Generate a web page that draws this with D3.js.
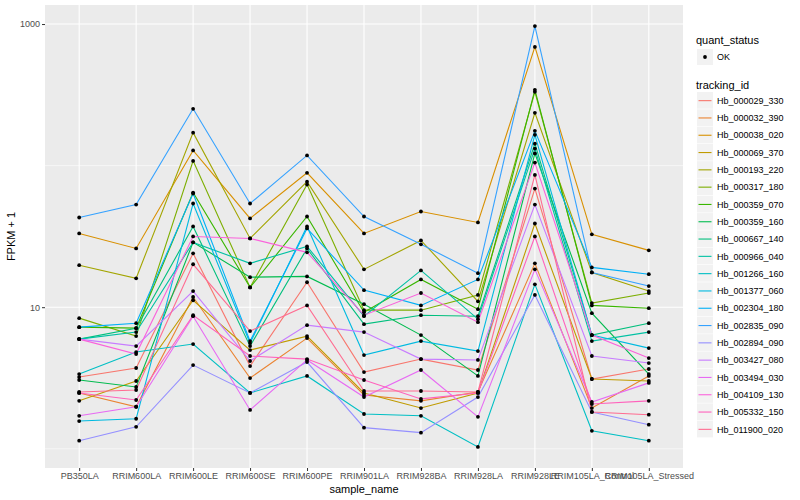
<!DOCTYPE html>
<html>
<head>
<meta charset="utf-8">
<script src="https://cdn.jsdelivr.net/npm/d3@7"></script>
<style>
  body { margin: 0; background: #fff; }
  text { font-family: "Liberation Sans", Arial, sans-serif; }
</style>
</head>
<body>
<svg id="chart"></svg>
<script>
const samples = ['PB350LA', 'RRIM600LA', 'RRIM600LE', 'RRIM600SE', 'RRIM600PE', 'RRIM901LA',
  'RRIM928BA', 'RRIM928LA', 'RRIM928LE', 'RRIM105LA_Control', 'RRIM105LA_Stressed'];

const trackingIds = ['Hb_000029_330', 'Hb_000032_390', 'Hb_000038_020', 'Hb_000069_370', 'Hb_000193_220',
  'Hb_000317_180', 'Hb_000359_070', 'Hb_000359_160', 'Hb_000667_140', 'Hb_000966_040',
  'Hb_001266_160', 'Hb_001377_060', 'Hb_002304_180', 'Hb_002835_090', 'Hb_002894_090',
  'Hb_003427_080', 'Hb_003494_030', 'Hb_004109_130', 'Hb_005332_150', 'Hb_011900_020'];

// FPKM + 1, one row per tracking id, one value per sample
const fpkm = [
  [3.21, 3.72, 24.0, 3.84, 15.0, 3.48, 4.30, 3.60, 68.9, 3.11, 3.66],
  [2.48, 1.98, 11.8, 3.16, 6.05, 2.40, 2.18, 2.52, 20.4, 1.94, 3.27],
  [33.2, 26.0, 128, 42.4, 89, 33.2, 47.4, 39.7, 689, 32.7, 25.2],
  [2.18, 3.01, 11.2, 4.98, 6.25, 2.48, 1.94, 2.48, 39.0, 3.11, 3.01],
  [19.8, 16.0, 171, 30.6, 77, 18.5, 29.6, 11.0, 236, 17.6, 13.0],
  [8.37, 6.25, 108, 13.8, 73.5, 9.53, 9.53, 12.2, 332, 10.7, 12.6],
  [7.23, 7.11, 64.5, 13.8, 43.7, 9.22, 15.7, 9.68, 343, 10.3, 9.84],
  [3.06, 2.73, 28.7, 16.3, 16.5, 10.5, 6.35, 3.27, 122, 9.07, 3.37],
  [5.95, 7.11, 37.2, 5.31, 26.0, 7.59, 8.78, 8.64, 143, 6.35, 7.71],
  [5.95, 6.67, 28.7, 20.4, 26.9, 8.64, 18.2, 8.23, 132, 5.76, 6.67],
  [3.37, 4.82, 5.49, 2.48, 3.27, 1.76, 1.71, 1.03, 14.5, 1.34, 1.14],
  [1.57, 1.63, 54, 5.58, 37.2, 4.59, 5.76, 4.90, 165, 6.35, 5.14],
  [7.23, 7.71, 63.5, 5.76, 36.0, 13.2, 10.3, 15.7, 176, 19.1, 17.1],
  [43, 53.1, 252, 54, 118, 43.7, 27.8, 17.4, 968, 17.6, 14.1],
  [1.14, 1.43, 3.90, 2.48, 4.10, 1.41, 1.30, 2.32, 12.2, 1.82, 1.48],
  [5.95, 5.31, 13.0, 4.17, 7.47, 6.67, 4.30, 4.24, 53.1, 4.52, 4.03],
  [1.71, 1.98, 8.64, 1.88, 4.24, 2.32, 3.60, 1.68, 18.5, 2.14, 2.92],
  [5.95, 4.67, 31.6, 30.6, 24.4, 8.78, 12.6, 7.84, 105, 6.35, 4.37],
  [2.48, 2.21, 8.78, 4.52, 4.30, 3.06, 2.25, 2.48, 31.6, 2.07, 2.18],
  [2.52, 2.60, 20.1, 6.78, 10.3, 2.56, 2.56, 2.52, 86, 1.82, 1.74]
];

const yMajor = [10, 1000];
const yMinor = [1, 100];

// ggplot default hue palette for 20 groups
const colors = ['#F8766D', '#EA8331', '#D89000', '#C09B00', '#A3A500', '#7CAE00', '#39B600', '#00BB4E',
  '#00BF7D', '#00C1A3', '#00BFC4', '#00BAE0', '#00B0F6', '#35A2FF', '#9590FF', '#C77CFF',
  '#E76BF3', '#FA62DB', '#FF62BC', '#FF6C91'];

const width = 800, height = 500;
const panel = { left: 45, right: 683, top: 5, bottom: 468 };

const svg = d3.select('#chart').attr('width', width).attr('height', height);

// x: discrete with ggplot's 0.6 unit padding
const x = d3.scalePoint().domain(samples)
  .range([panel.left, panel.right]).padding(0.6);

// y: log10 with 5% expansion of the data range
const allVals = fpkm.flat();
const lo = Math.log10(d3.min(allVals)), hi = Math.log10(d3.max(allVals));
const pad = (hi - lo) * 0.05;
const y = d3.scaleLog().domain([Math.pow(10, lo - pad), Math.pow(10, hi + pad)])
  .range([panel.bottom, panel.top]);

svg.append('rect')
  .attr('x', panel.left).attr('y', panel.top)
  .attr('width', panel.right - panel.left).attr('height', panel.bottom - panel.top)
  .attr('fill', '#EBEBEB');

const grid = svg.append('g');
grid.selectAll('.minor').data(yMinor).join('line')
  .attr('x1', panel.left).attr('x2', panel.right)
  .attr('y1', d => y(d)).attr('y2', d => y(d))
  .attr('stroke', '#fff').attr('stroke-width', 0.55);
grid.selectAll('.major').data(yMajor).join('line')
  .attr('x1', panel.left).attr('x2', panel.right)
  .attr('y1', d => y(d)).attr('y2', d => y(d))
  .attr('stroke', '#fff').attr('stroke-width', 1.1);
grid.selectAll('.vmajor').data(samples).join('line')
  .attr('x1', d => x(d)).attr('x2', d => x(d))
  .attr('y1', panel.top).attr('y2', panel.bottom)
  .attr('stroke', '#fff').attr('stroke-width', 1.1);

// lines
const series = trackingIds.map((id, i) => ({ id, color: colors[i], values: fpkm[i] }));
const line = d3.line()
  .x((d, i) => x(samples[i]))
  .y(d => y(d));

svg.append('g').selectAll('path').data(series).join('path')
  .attr('d', d => line(d.values))
  .attr('fill', 'none')
  .attr('stroke', d => d.color)
  .attr('stroke-width', 1.1);

// points
svg.append('g').selectAll('g').data(series).join('g')
  .selectAll('circle').data(d => d.values).join('circle')
  .attr('cx', (d, i) => x(samples[i]))
  .attr('cy', d => y(d))
  .attr('r', 1.9)
  .attr('fill', '#000');

// axes
const xAxis = svg.append('g')
  .attr('transform', `translate(0,${panel.bottom})`)
  .call(d3.axisBottom(x).tickSize(3).tickPadding(2));
const yAxis = svg.append('g')
  .attr('transform', `translate(${panel.left},0)`)
  .call(d3.axisLeft(y).tickValues(yMajor).tickFormat(d3.format('d')).tickSize(3).tickPadding(2));
[xAxis, yAxis].forEach(a => {
  a.select('.domain').remove();
  a.selectAll('.tick line').attr('stroke', '#333').attr('stroke-width', 1);
  a.selectAll('.tick text').attr('fill', '#4D4D4D').style('font-size', '9px')
    .style('font-family', '"Liberation Sans", Arial, sans-serif');
});

svg.append('text')
  .attr('x', (panel.left + panel.right) / 2).attr('y', 493)
  .attr('text-anchor', 'middle').style('font-size', '11px')
  .text('sample_name');
svg.append('text')
  .attr('transform', `translate(15,${(panel.top + panel.bottom) / 2}) rotate(-90)`)
  .attr('text-anchor', 'middle').style('font-size', '11px')
  .text('FPKM + 1');

// legend
const lg = svg.append('g').attr('transform', 'translate(696,0)');
lg.append('text').attr('x', 0).attr('y', 44).style('font-size', '11px').text('quant_status');
lg.append('rect').attr('x', 1).attr('y', 49).attr('width', 16).attr('height', 16).attr('fill', '#F2F2F2');
lg.append('circle').attr('cx', 9).attr('cy', 57).attr('r', 1.9).attr('fill', '#000');
lg.append('text').attr('x', 21).attr('y', 60).style('font-size', '9px').text('OK');

lg.append('text').attr('x', 0).attr('y', 89).style('font-size', '11px').text('tracking_id');
const step = 17.3;
const items = lg.selectAll('.item').data(series).join('g')
  .attr('transform', (d, i) => `translate(0,${92 + i * step})`);
items.append('rect').attr('x', 1).attr('y', 0).attr('width', 16).attr('height', step - 0.6)
  .attr('fill', '#F2F2F2');
items.append('line').attr('x1', 2.5).attr('x2', 15.5)
  .attr('y1', step / 2).attr('y2', step / 2)
  .attr('stroke', d => d.color).attr('stroke-width', 1.1);
items.append('text').attr('x', 21).attr('y', step / 2 + 3.2)
  .style('font-size', '9px').text(d => d.id);
</script>
</body>
</html>
